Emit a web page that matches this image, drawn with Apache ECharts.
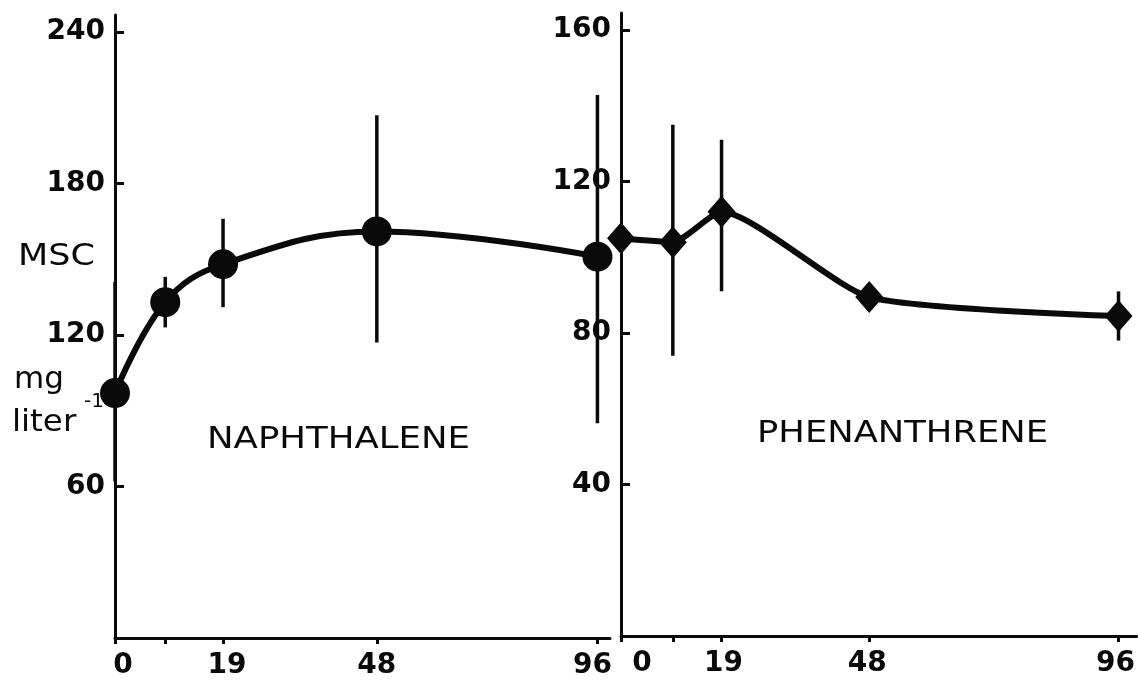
<!DOCTYPE html>
<html>
<head>
<meta charset="utf-8">
<title>MSC naphthalene / phenanthrene</title>
<script src="https://cdn.jsdelivr.net/npm/echarts@6.0.0/dist/echarts.min.js"></script>
<style>
  html, body { margin: 0; padding: 0; background: #fff; }
  #chart { width: 1138px; height: 682px; }
</style>
</head>
<body>
<div id="chart"></div>
<script>
// sampling times (h), same for both panels
const hours = [0, 10, 19, 48, 96];
const labelHours = [0, 19, 48, 96];

// naphthalene MSC (mg/liter): mean and ends of the error bar
const napMean = [97, 133, 148, 161, 151];
const napLow = [62, 123, 131, 117, 85];
const napHigh = [141, 143, 166, 207, 215];

// phenanthrene MSC (mg/liter)
const phenMean = [105, 104, 112, 89.5, 84.5];
const phenLow = [null, 74, 91, null, 78];
const phenHigh = [null, 135, 131, null, 91];

const napTicks = [60, 120, 180, 240];
const phenTicks = [40, 80, 120, 160];

// the printed time axes are hand drawn, not quite linear: where each hour sits on them
const napAxisPos = [0, 10, 21.5, 52.1, 96];
const phenAxisPos = [0, 10, 19.4, 47.9, 96];

const INK = '#0a0a0a';
const BOLD = { fontFamily: 'DejaVu Sans', fontSize: 28, fontWeight: 'bold', color: INK };

function onAxis(h, pos) {
    for (let i = 1; i < hours.length; i++) {
        if (h <= hours[i]) {
            const t = (h - hours[i - 1]) / (hours[i] - hours[i - 1]);
            return pos[i - 1] + t * (pos[i] - pos[i - 1]);
        }
    }
    return pos[pos.length - 1];
}

// shifts = nudges (px) of the time labels away from their ticks, as printed
function timeAxis(gridIndex, pos, max, shifts) {
    const labelPos = labelHours.map(h => onAxis(h, pos));
    const rich = {};
    shifts.forEach((s, i) => {
        rich['s' + i] = Object.assign({}, BOLD, {
            padding: s >= 0 ? [0, 0, 0, 2 * s] : [0, -2 * s, 0, 0]
        });
    });
    return {
        type: 'value',
        gridIndex,
        min: 0,
        max,
        splitLine: { show: false },
        axisLine: { show: true, onZero: false, lineStyle: { color: INK, width: 3 } },
        axisTick: { show: true, customValues: pos, length: 6, lineStyle: { color: INK, width: 3 } },
        axisLabel: Object.assign({}, BOLD, {
            customValues: labelPos,
            margin: 14,
            rich,
            formatter: v => {
                let k = 0;
                labelPos.forEach((p, i) => { if (Math.abs(p - v) < Math.abs(labelPos[k] - v)) k = i; });
                return '{s' + k + '|' + labelHours[k] + '}';
            }
        })
    };
}

function mscAxis(gridIndex, ticks, max) {
    return {
        type: 'value',
        gridIndex,
        min: 0,
        max,
        splitLine: { show: false },
        axisLine: { show: true, onZero: false, lineStyle: { color: INK, width: 3 } },
        axisTick: { show: true, inside: true, customValues: ticks, length: 9, lineStyle: { color: INK, width: 3 } },
        axisLabel: Object.assign({}, BOLD, { customValues: ticks, margin: 10 })
    };
}

function meanSeries(idx, mean, pos, symbol, size, smooth) {
    return {
        type: 'line',
        xAxisIndex: idx,
        yAxisIndex: idx,
        data: hours.map((h, i) => [onAxis(h, pos), mean[i]]),
        smooth,
        symbol,
        symbolSize: size,
        showAllSymbol: true,
        clip: false,
        lineStyle: { color: INK, width: 6 },
        itemStyle: { color: INK },
        z: 3
    };
}

function barSeries(idx, low, high, pos) {
    const data = [];
    hours.forEach((h, i) => {
        if (low[i] != null) data.push([onAxis(h, pos), low[i], high[i]]);
    });
    return {
        type: 'custom',
        xAxisIndex: idx,
        yAxisIndex: idx,
        data,
        encode: { x: 0, y: [1, 2] },
        renderItem: (params, api) => {
            const a = api.coord([api.value(0), api.value(1)]);
            const b = api.coord([api.value(0), api.value(2)]);
            return {
                type: 'line',
                shape: { x1: a[0], y1: a[1], x2: b[0], y2: b[1] },
                style: { stroke: INK, lineWidth: 3.5 }
            };
        },
        z: 2
    };
}

function label(text, x, y, size, scaleX) {
    return {
        type: 'text', x, y, scaleX,
        style: { text, font: size + 'px "DejaVu Sans"', fill: INK, verticalAlign: 'middle' }
    };
}

const chart = echarts.init(document.getElementById('chart'));
chart.setOption({
    backgroundColor: '#fff',
    animation: false,
    grid: [
        { left: 115, right: 528, top: 15, bottom: 44 },
        { left: 621, right: 0, top: 13, bottom: 46 }
    ],
    xAxis: [
        timeAxis(0, napAxisPos, 98.5, [8, 4, 0, -5]),
        timeAxis(1, phenAxisPos, 99.5, [21, 2, -2, -3])
    ],
    yAxis: [
        mscAxis(0, napTicks, 246.7),
        mscAxis(1, phenTicks, 164.5)
    ],
    series: [
        barSeries(0, napLow, napHigh, napAxisPos),
        meanSeries(0, napMean, napAxisPos, 'circle', 30, 0.4),
        barSeries(1, phenLow, phenHigh, phenAxisPos),
        meanSeries(1, phenMean, phenAxisPos, 'diamond', [28, 32], 0.2)
    ],
    graphic: [
        label('MSC', 18, 257, 31, 1.13),
        label('mg', 14, 380, 31, 1.0),
        label('liter', 12, 423, 31, 1.05),
        label('-1', 84, 402, 20, 1.0),
        label('NAPHTHALENE', 207, 440, 31, 1.146),
        label('PHENANTHRENE', 757, 434, 31, 1.14)
    ]
});
</script>
</body>
</html>
